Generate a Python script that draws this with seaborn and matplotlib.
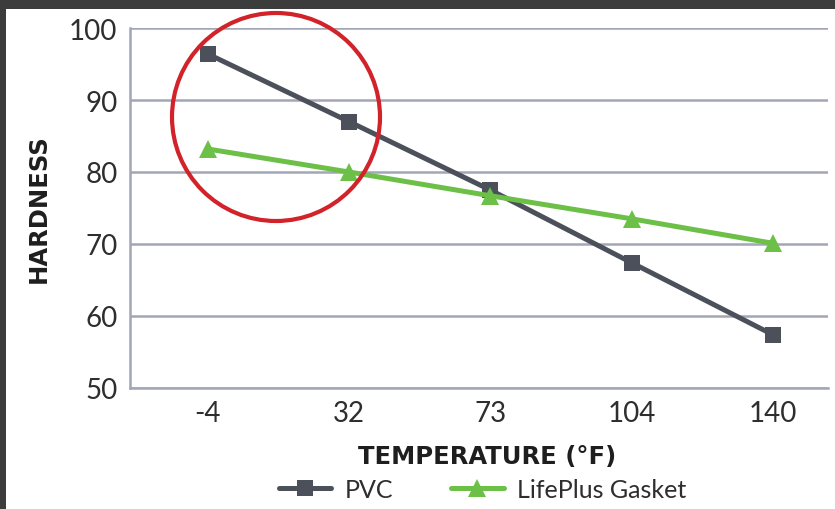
import pandas as pd
import matplotlib.pyplot as plt
import seaborn as sns
from matplotlib.patches import Ellipse, Rectangle

# chart values
temperatures = ["-4", "32", "73", "104", "140"]
pvc = [96.4, 87.0, 77.5, 67.4, 57.4]
lifeplus = [83.2, 80.0, 76.7, 73.5, 70.1]
series_names = ["PVC", "LifePlus Gasket"]
y_ticks = [50, 60, 70, 80, 90, 100]

df = pd.DataFrame(
    {
        "Temperature": temperatures * 2,
        "Hardness": pvc + lifeplus,
        "Material": [series_names[0]] * len(pvc) + [series_names[1]] * len(lifeplus),
    }
)

sns.set_style("white")
plt.rcParams["font.family"] = ["Lato", "DejaVu Sans"]

fig = plt.figure(figsize=(8.35, 5.10), dpi=100, facecolor="#3c3c3c")
# white card over the dark photo background
fig.patches.append(
    Rectangle((6 / 835, 0), 1, 500 / 510, transform=fig.transFigure,
              facecolor="white", edgecolor="none", zorder=-10)
)

ax = fig.add_axes([130 / 835, 121 / 510, 698 / 835, 360 / 510])
ax.set_facecolor("none")

palette = {"PVC": "#4b505b", "LifePlus Gasket": "#6cbf47"}
markers = {"PVC": "s", "LifePlus Gasket": "^"}
sns.lineplot(
    data=df, x="Temperature", y="Hardness", hue="Material", style="Material",
    palette=palette, markers=markers, dashes=False, linewidth=3.6,
    markersize=11, markeredgewidth=0, sort=False, ax=ax, zorder=3,
)
for line in ax.lines:
    if line.get_marker() == "^":
        line.set_markersize(12.5)

ax.set_ylim(50, 100)
ax.set_xlim(-0.55, 4.39)
ax.set_yticks(y_ticks)
ax.yaxis.grid(True, color="#a2a6b6", linewidth=1.8)
ax.xaxis.grid(False)
for side in ["top", "right"]:
    ax.spines[side].set_visible(False)
for side in ["left", "bottom"]:
    ax.spines[side].set_color("#a2a6b6")
    ax.spines[side].set_linewidth(1.8)
ax.tick_params(axis="both", length=0, labelsize=20, labelcolor="#2e2e2e")
ax.tick_params(axis="x", pad=9)
ax.tick_params(axis="y", pad=9)

label_font = dict(family=["DejaVu Sans"], fontsize=17.5, fontweight="bold", color="#1e1e1e")
ax.set_xlabel("TEMPERATURE (°F)", **label_font)
ax.set_ylabel("HARDNESS", **label_font)
ax.xaxis.set_label_coords(0.511, -0.155)
ax.yaxis.set_label_coords(-0.113, 0.5)

handles, labels = ax.get_legend_handles_labels()
ax.get_legend().remove()
leg = fig.legend(
    handles, labels, loc="center", bbox_to_anchor=(0.578, 0.039), ncol=2,
    frameon=False, fontsize=18, handlelength=2.1, columnspacing=2.3,
    handletextpad=0.55,
)
for t in leg.get_texts():
    t.set_color("#2e2e2e")

# red highlight circle
fig.patches.append(
    Ellipse((276 / 835, 1 - 118 / 510), 208 / 835, 208 / 510,
            transform=fig.transFigure, fill=False, edgecolor="#d2232a",
            linewidth=3.0, zorder=5)
)

fig.savefig("out.png", dpi=100, facecolor=fig.get_facecolor())
